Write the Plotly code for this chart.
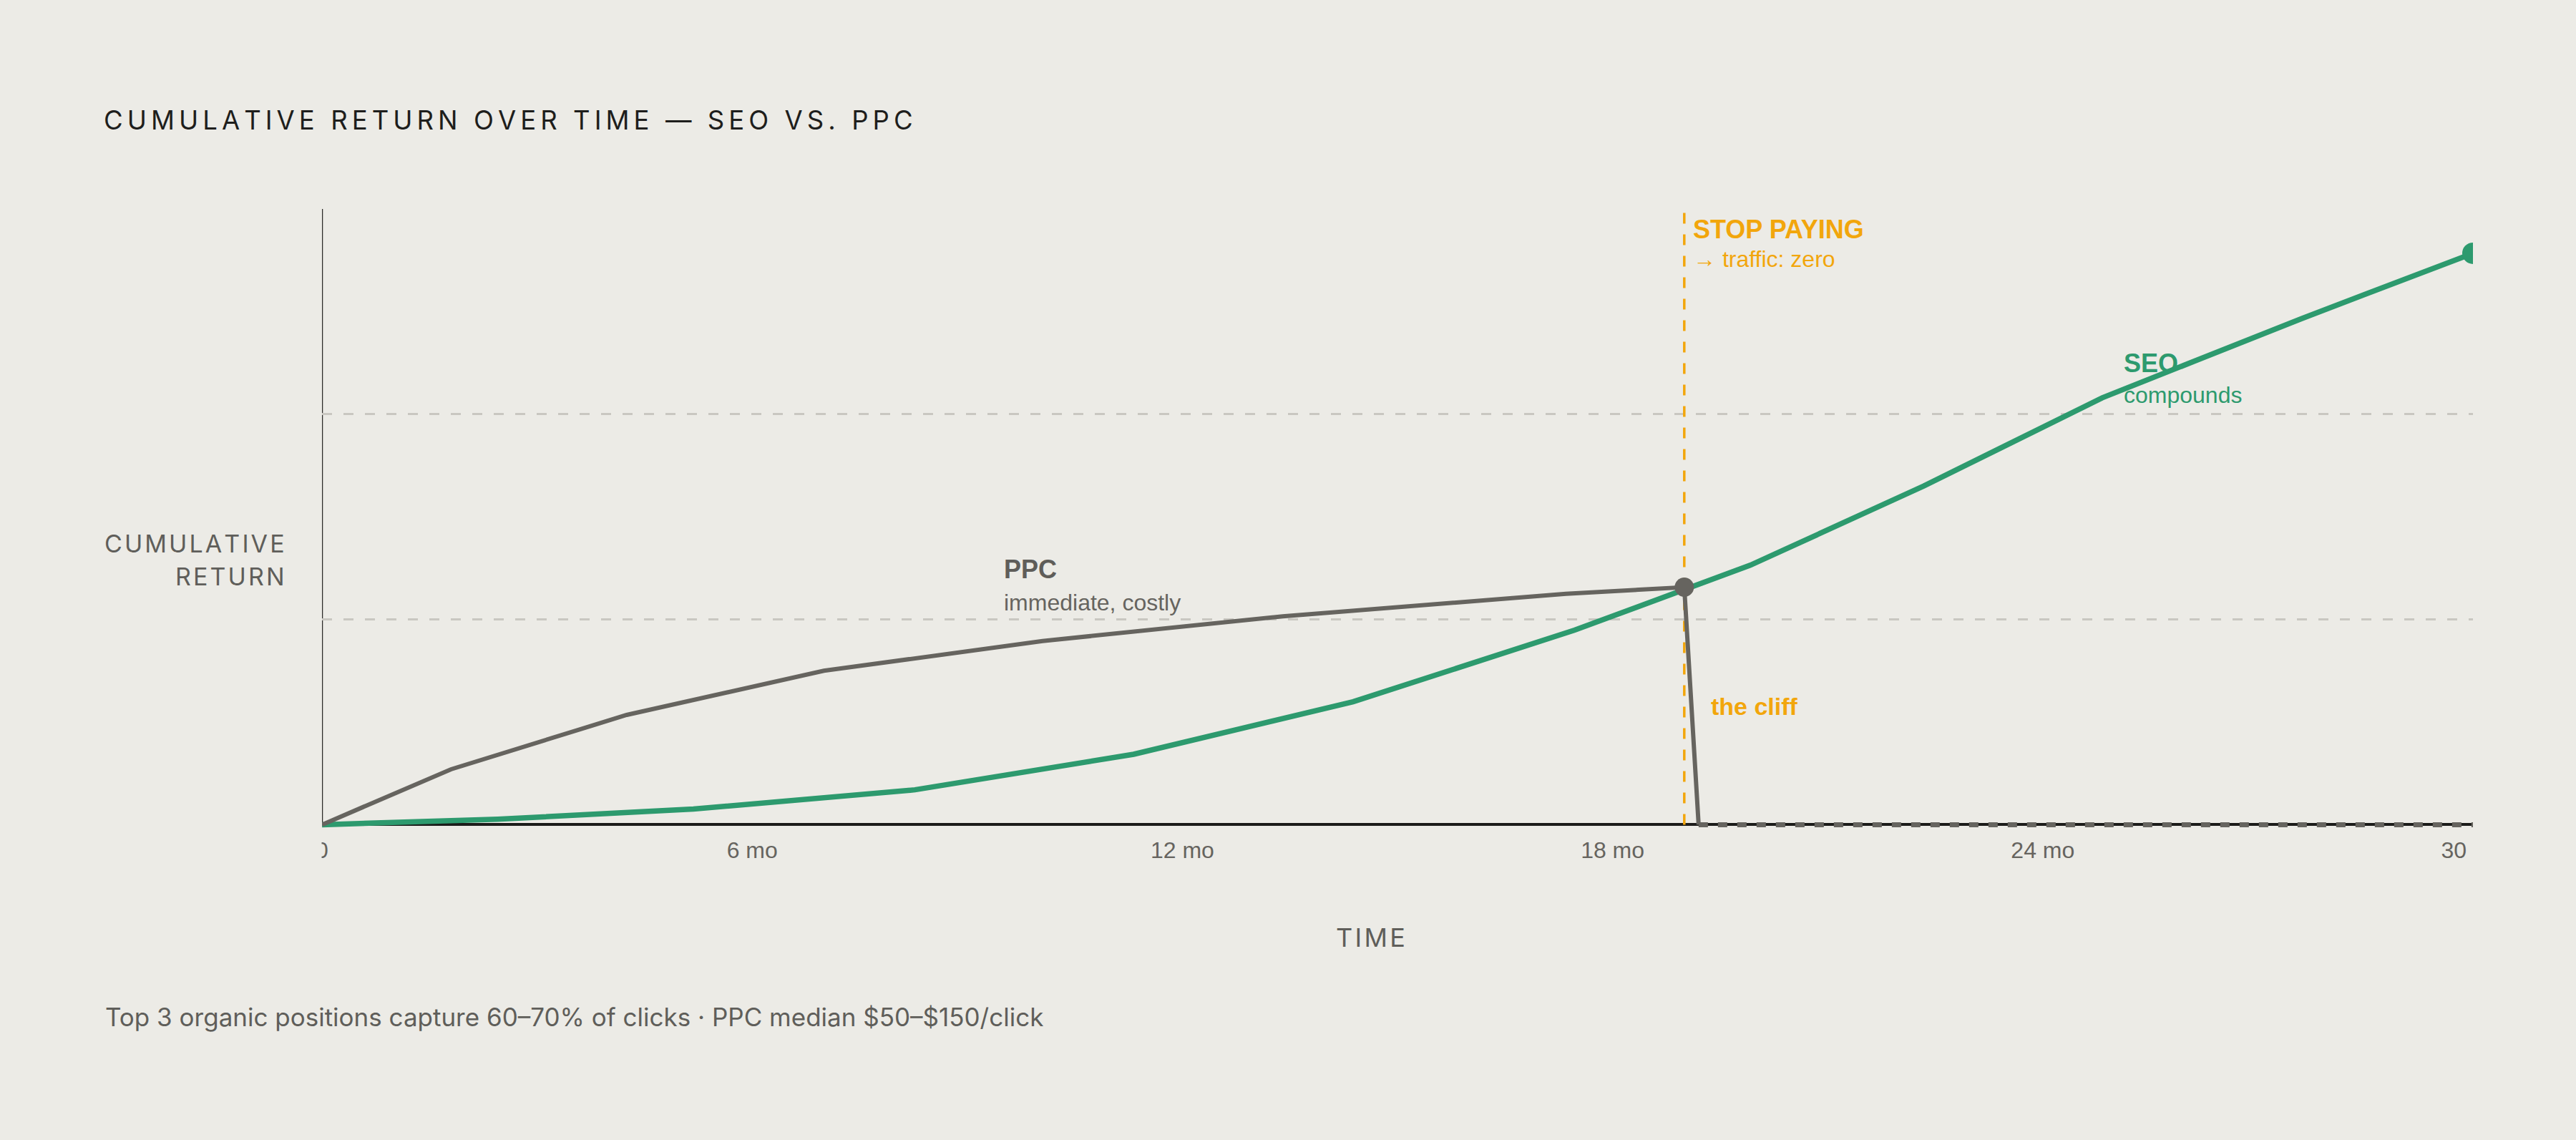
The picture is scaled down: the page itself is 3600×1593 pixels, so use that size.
import plotly.graph_objects as go

# --- data ---
ppc_month = [0, 1.8, 4.25, 7.0, 10.05, 13.4, 17.35, 19.0, 19.2]
ppc_return = [0, 27, 53.5, 75, 89.5, 101.5, 112.5, 115.7, 0]
ppc_after_month = [19.2, 30]
ppc_after_return = [0, 0]

seo_month = [0, 2.45, 5.18, 8.27, 11.32, 14.38, 17.47, 19.92, 22.34, 24.83, 27.61, 30]
seo_return = [0, 2.7, 7.6, 17, 34.3, 59.9, 94.8, 126.4, 165, 208, 246.6, 278.4]

stop_month = 19.0
stop_return = 115.7

tick_months = [0, 6, 12, 18, 24, 30]
tick_labels = ["0", "6 mo", "12 mo", "18 mo", "24 mo", "30 mo"]
grid_levels = [100, 200]
y_range = [-3, 300]   # a little room under zero so lines on the axis aren't cut in half

BG = "#ecebe6"
GRAY = "#66645f"
GREEN = "#2d9a6e"
ORANGE = "#f2a60c"
INK = "#1e1e1c"
MUTED = "#5f5e5a"
SANS = "Inter"
ARIAL = "Liberation Sans"

W, H = 3600, 1593
M_L, M_R, M_T, M_B = 450, 144, 292, 432
PLOT_W = W - M_L - M_R
PLOT_H = H - M_T - M_B


def px_x(p):
    return (p - M_L) / PLOT_W


def px_y(p):
    return (H - M_B - p) / PLOT_H


def spaced(s, sp="\u200a"):
    # poor man's letter-spacing
    return sp.join(s)


fig = go.Figure()

# stop-paying marker line
fig.add_trace(go.Scatter(x=[stop_month, stop_month], y=[0, 300], mode="lines",
                         line=dict(color=ORANGE, width=3.5, dash="15px,15px"),
                         hoverinfo="skip", showlegend=False))
# PPC after the cliff
fig.add_trace(go.Scatter(x=ppc_after_month, y=ppc_after_return, mode="lines",
                         line=dict(color=GRAY, width=7, dash="13px,14px"),
                         hoverinfo="skip", showlegend=False))
fig.add_trace(go.Scatter(x=seo_month, y=seo_return, mode="lines",
                         line=dict(color=GREEN, width=7.5),
                         hoverinfo="skip", showlegend=False))
fig.add_trace(go.Scatter(x=ppc_month, y=ppc_return, mode="lines",
                         line=dict(color=GRAY, width=6),
                         hoverinfo="skip", showlegend=False))
fig.add_trace(go.Scatter(x=[stop_month], y=[stop_return], mode="markers",
                         marker=dict(color=GRAY, size=27),
                         hoverinfo="skip", showlegend=False))
fig.add_trace(go.Scatter(x=[seo_month[-1]], y=[seo_return[-1]], mode="markers",
                         marker=dict(color=GREEN, size=30),
                         hoverinfo="skip", showlegend=False))

fig.update_xaxes(
    range=[0, 30],
    tickvals=tick_months, ticktext=tick_labels,
    tickfont=dict(family=ARIAL, size=32, color=GRAY),
    ticks="", ticklabelstandoff=5,
    showgrid=False, zeroline=False, showline=False,
)
fig.update_yaxes(
    range=y_range,
    tickvals=grid_levels, showticklabels=False, ticks="",
    showgrid=True, gridcolor="#c9c7c1", gridwidth=2.5, griddash="14px,16px",
    # zero line doubles as the x axis
    zeroline=True, zerolinecolor="#1c1c1a", zerolinewidth=4,
    showline=False,
)

ann = []
# in-plot labels
ann.append(dict(x=9.49, y=124.5, text="<b>PPC</b>", font=dict(family=ARIAL, size=36, color="#5f5d59")))
ann.append(dict(x=9.49, y=108.1, text="immediate, costly", font=dict(family=ARIAL, size=32, color=GRAY)))
ann.append(dict(x=25.11, y=225, text="<b>SEO</b>", font=dict(family=ARIAL, size=36, color=GREEN)))
ann.append(dict(x=25.11, y=209.3, text="compounds", font=dict(family=ARIAL, size=32, color=GREEN)))
ann.append(dict(x=stop_month + 0.1, y=290.2, text="<b>STOP PAYING</b>", font=dict(family=ARIAL, size=36, color=ORANGE)))
ann.append(dict(x=stop_month + 0.1, y=275.6, text="→ traffic: zero", font=dict(family=ARIAL, size=32, color=ORANGE)))
ann.append(dict(x=19.35, y=57.6, text="<b>the cliff</b>", font=dict(family=ARIAL, size=34, color=ORANGE)))
for a in ann:
    a.update(xref="x", yref="y", xanchor="left", yanchor="middle", showarrow=False)

outside = [
    dict(x=px_x(400), y=px_y(759), text=spaced("CUMULATIVE"), xanchor="right",
         font=dict(family=SANS, size=34, color=MUTED)),
    dict(x=px_x(400), y=px_y(805.5), text=spaced("RETURN"), xanchor="right",
         font=dict(family=SANS, size=34, color=MUTED)),
    dict(x=px_x(1915), y=px_y(1310), text=spaced("TIME"), xanchor="center",
         font=dict(family=SANS, size=36, color=MUTED)),
    dict(x=px_x(145), y=px_y(1421), xanchor="left",
         text="Top 3 organic positions capture 60–70% of clicks · PPC median $50–$150/click",
         font=dict(family=SANS, size=35, color=MUTED)),
]
for a in outside:
    a.update(xref="paper", yref="paper", yanchor="middle", showarrow=False)

fig.update_layout(
    width=W, height=H,
    margin=dict(l=M_L, r=M_R, t=M_T, b=M_B),
    paper_bgcolor=BG, plot_bgcolor=BG,
    showlegend=False,
    title=dict(text=spaced("CUMULATIVE RETURN OVER TIME — SEO VS. PPC", "\u2006"),
               xref="container", yref="container", x=145 / W, y=1 - 168 / H,
               xanchor="left", yanchor="middle",
               font=dict(family=SANS, size=36.5, color=INK)),
    annotations=ann + outside,
    shapes=[
        # y axis line, from zero to the top
        dict(type="line", xref="x", yref="y", x0=0, x1=0, y0=0, y1=y_range[1],
             line=dict(color="#2b2a28", width=2.5), layer="below"),
        # the original clips the first/last tick labels at the plot edge
        dict(type="rect", xref="paper", yref="paper", x0=px_x(0), x1=px_x(449.5),
             y0=px_y(1166), y1=px_y(1232), fillcolor=BG, line=dict(width=0), layer="above"),
        dict(type="rect", xref="paper", yref="paper", x0=px_x(3457), x1=px_x(3600),
             y0=px_y(1166), y1=px_y(1232), fillcolor=BG, line=dict(width=0), layer="above"),
    ],
)

fig.write_html("out.html", config={"displayModeBar": False},
               post_script="document.body.style.margin='0';document.body.style.background='#ecebe6';")
